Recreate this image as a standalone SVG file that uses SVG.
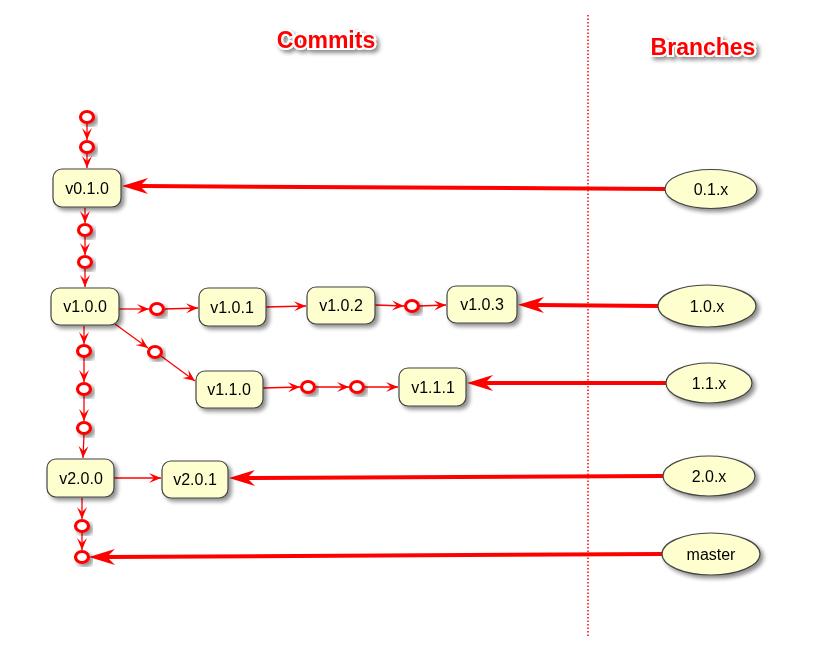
<svg xmlns="http://www.w3.org/2000/svg" width="815" height="663" viewBox="0 0 815 663">
<style>
.box{fill:#FEFECE;stroke:#444;stroke-width:1.2}
.lbl{font-family:"Liberation Sans",Arial,sans-serif;font-size:16px;fill:#000;text-anchor:middle}
.c{fill:#fff;stroke:#f00;stroke-width:3.2}
.thin{stroke:#f00;stroke-width:1.3;fill:none;marker-end:url(#a)}
.thick{stroke:#f00;stroke-width:4;fill:none;marker-end:url(#b)}
.title{font-family:"Liberation Sans",Arial,sans-serif;font-weight:bold;font-size:23px;fill:#f00;stroke:#fff;stroke-width:4;paint-order:stroke;text-anchor:middle}
</style>
<defs>
<filter id="sh" x="-20%" y="-20%" width="150%" height="160%">
<feGaussianBlur in="SourceAlpha" stdDeviation="2"/>
<feOffset dx="3" dy="3" result="o"/>
<feComponentTransfer><feFuncA type="linear" slope="0.45"/></feComponentTransfer>
<feMerge><feMergeNode/><feMergeNode in="SourceGraphic"/></feMerge>
</filter>
<marker id="a" viewBox="-13 -6 14 12" refX="0" refY="0" markerWidth="14" markerHeight="12" orient="auto" markerUnits="userSpaceOnUse">
<path d="M0,0 L-12,-5 L-7,0 L-12,5 Z" fill="#f00"/>
</marker>
<marker id="b" viewBox="-10 -9 30 18" refX="0" refY="0" markerWidth="30" markerHeight="18" orient="auto" markerUnits="userSpaceOnUse">
<path d="M18,0 L-8,-8 L0,0 L-8,8 Z" fill="#f00"/>
</marker>
</defs>
<rect width="815" height="663" fill="#fff"/>
<line x1="588" y1="15" x2="588" y2="638" stroke="#f00" stroke-width="1.5" stroke-dasharray="1.5,2"/>
<g filter="url(#sh)">
<text class="title" x="326" y="48">Commits</text>
<text class="title" x="703" y="55">Branches</text>
</g>
<g id="connectors">
<line class="thin" x1="87" y1="122" x2="87" y2="140"/>
<line class="thin" x1="87" y1="152" x2="87" y2="168"/>
<line class="thin" x1="85" y1="208" x2="85" y2="223"/>
<line class="thin" x1="85" y1="236" x2="85" y2="255"/>
<line class="thin" x1="85" y1="268" x2="85" y2="287"/>
<line class="thin" x1="119" y1="309" x2="149" y2="309"/>
<line class="thin" x1="164" y1="309" x2="198" y2="308"/>
<line class="thin" x1="266" y1="307" x2="306" y2="306"/>
<line class="thin" x1="375" y1="305" x2="404" y2="306"/>
<line class="thin" x1="419" y1="306" x2="446" y2="305"/>
<line class="thin" x1="115" y1="324" x2="148" y2="348"/>
<line class="thin" x1="161" y1="356" x2="195" y2="381"/>
<line class="thin" x1="84" y1="326" x2="84" y2="344"/>
<line class="thin" x1="84" y1="357" x2="84" y2="382"/>
<line class="thin" x1="84" y1="395" x2="84" y2="421"/>
<line class="thin" x1="84" y1="434" x2="83" y2="458"/>
<line class="thin" x1="114" y1="478" x2="161" y2="478"/>
<line class="thin" x1="82" y1="498" x2="82" y2="519"/>
<line class="thin" x1="82" y1="532" x2="82" y2="550"/>
<line class="thin" x1="263" y1="388" x2="300" y2="387"/>
<line class="thin" x1="315" y1="387" x2="349" y2="387"/>
<line class="thin" x1="364" y1="387" x2="398" y2="387"/>
<line class="thick" x1="665" y1="189" x2="140" y2="186"/>
<line class="thick" x1="658" y1="306" x2="536" y2="305"/>
<line class="thick" x1="666" y1="383" x2="485" y2="383"/>
<line class="thick" x1="663" y1="476" x2="247" y2="478"/>
<line class="thick" x1="663" y1="554" x2="107" y2="557"/>
</g>
<g id="c1" filter="url(#sh)"><ellipse class="c" cx="87" cy="117" rx="6.5" ry="5.5"/></g>
<g id="c2" filter="url(#sh)"><ellipse class="c" cx="87" cy="147" rx="6.5" ry="5.5"/></g>
<g id="c3" filter="url(#sh)"><ellipse class="c" cx="85" cy="230" rx="6.5" ry="5.5"/></g>
<g id="c4" filter="url(#sh)"><ellipse class="c" cx="85" cy="262" rx="6.5" ry="5.5"/></g>
<g id="c5" filter="url(#sh)"><ellipse class="c" cx="157" cy="309" rx="6.5" ry="5.5"/></g>
<g id="c6" filter="url(#sh)"><ellipse class="c" cx="412" cy="306" rx="6.5" ry="5.5"/></g>
<g id="c7" filter="url(#sh)"><ellipse class="c" cx="155" cy="352" rx="6.5" ry="5.5"/></g>
<g id="c8" filter="url(#sh)"><ellipse class="c" cx="84" cy="351" rx="6.5" ry="5.5"/></g>
<g id="c9" filter="url(#sh)"><ellipse class="c" cx="84" cy="389" rx="6.5" ry="5.5"/></g>
<g id="c10" filter="url(#sh)"><ellipse class="c" cx="84" cy="428" rx="6.5" ry="5.5"/></g>
<g id="c11" filter="url(#sh)"><ellipse class="c" cx="308" cy="387" rx="6.5" ry="5.5"/></g>
<g id="c12" filter="url(#sh)"><ellipse class="c" cx="357" cy="387" rx="6.5" ry="5.5"/></g>
<g id="c13" filter="url(#sh)"><ellipse class="c" cx="82" cy="526" rx="6.5" ry="5.5"/></g>
<g id="c14" filter="url(#sh)"><ellipse class="c" cx="82" cy="557" rx="6.5" ry="5.5"/></g>
<g id="v010" filter="url(#sh)"><rect class="box" x="53" y="169" width="68" height="38" rx="9"/><text class="lbl" x="87" y="194">v0.1.0</text></g>
<g id="v100" filter="url(#sh)"><rect class="box" x="51" y="288" width="68" height="37" rx="9"/><text class="lbl" x="85" y="312">v1.0.0</text></g>
<g id="v101" filter="url(#sh)"><rect class="box" x="199" y="288" width="67" height="38" rx="9"/><text class="lbl" x="232" y="313">v1.0.1</text></g>
<g id="v102" filter="url(#sh)"><rect class="box" x="307" y="287" width="68" height="37" rx="9"/><text class="lbl" x="341" y="311">v1.0.2</text></g>
<g id="v103" filter="url(#sh)"><rect class="box" x="447" y="286" width="70" height="37" rx="9"/><text class="lbl" x="482" y="310">v1.0.3</text></g>
<g id="v110" filter="url(#sh)"><rect class="box" x="196" y="371" width="67" height="37" rx="9"/><text class="lbl" x="229" y="395">v1.1.0</text></g>
<g id="v111" filter="url(#sh)"><rect class="box" x="399" y="368" width="67" height="38" rx="9"/><text class="lbl" x="433" y="393">v1.1.1</text></g>
<g id="v200" filter="url(#sh)"><rect class="box" x="47" y="459" width="67" height="38" rx="9"/><text class="lbl" x="81" y="484">v2.0.0</text></g>
<g id="v201" filter="url(#sh)"><rect class="box" x="162" y="461" width="66" height="37" rx="9"/><text class="lbl" x="195" y="485">v2.0.1</text></g>
<g id="b01x" filter="url(#sh)"><ellipse class="box" cx="711" cy="189" rx="46" ry="19.5"/><text class="lbl" x="711" y="195">0.1.x</text></g>
<g id="b10x" filter="url(#sh)"><ellipse class="box" cx="707" cy="306" rx="49" ry="21"/><text class="lbl" x="707" y="312">1.0.x</text></g>
<g id="b11x" filter="url(#sh)"><ellipse class="box" cx="709" cy="383" rx="43" ry="20"/><text class="lbl" x="709" y="389">1.1.x</text></g>
<g id="b20x" filter="url(#sh)"><ellipse class="box" cx="709" cy="476" rx="46" ry="20"/><text class="lbl" x="709" y="482">2.0.x</text></g>
<g id="bmaster" filter="url(#sh)"><ellipse class="box" cx="711" cy="554" rx="49" ry="21"/><text class="lbl" x="711" y="560">master</text></g>
</svg>
